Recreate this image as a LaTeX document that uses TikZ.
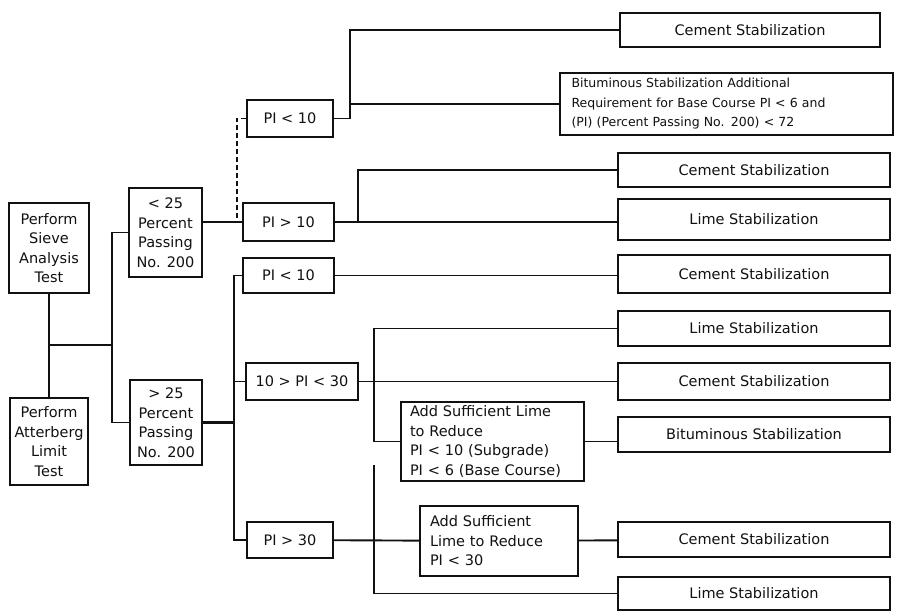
\documentclass[tikz,border=0pt]{standalone}
\usepackage{fontspec}
\setmainfont{DejaVu Sans}
\definecolor{ink}{HTML}{111111}
\tikzset{
  font=\fontsize{14.5}{19.5}\selectfont,
  box/.style 2 args={
    draw=ink, fill=white, text=ink, line width=1.9pt,
    inner sep=0pt, align=center,
    minimum width=#1pt, minimum height=#2pt
  },
  note/.style={align=left, text width=#1pt},
  wire/.style={draw=ink, line width=1.9pt}
}

\begin{document}
\begin{tikzpicture}[x=1pt,y=-1pt]
  \fill[white] (0,0) rectangle (899,611);
  \useasboundingbox (0,0) rectangle (899,611);

  % tests and soil classes
  \node[box={80}{90}] (sieve) at (49,248) {Perform\\Sieve\\Analysis\\Test};
  \node[box={78}{87}] (atter) at (49,441.5) {Perform\\Atterberg\\Limit\\Test};
  \node[box={73}{89}] (lt25) at (165.5,232.5) {< 25\\Percent\\Passing\\No. 200};
  \node[box={72}{85}] (gt25) at (166,422.5) {> 25\\Percent\\Passing\\No. 200};

  % plasticity ranges
  \node[box={86}{37}] (pile) at (290,118.5) {PI < 10};
  \node[box={91}{38}] (pigt) at (288.5,222) {PI > 10};
  \node[box={91}{35}] (pilo) at (288.5,275.5) {PI < 10};
  \node[box={112}{37}] (pimid) at (302,381.5) {10 > PI < 30};
  \node[box={86}{36}] (pihi) at (290,540) {PI > 30};
  \node[box={183}{79}, note=165] (addlo) at (492.5,441.5)
    {Add Sufficient Lime\\to Reduce\\PI < 10 (Subgrade)\\PI < 6 (Base Course)};
  \node[box={158}{70}, note=138] (addhi) at (499,541)
    {Add Sufficient\\Lime to Reduce\\PI < 30};

  % stabilizers
  \node[box={260}{34}] (cemtop) at (750,30) {Cement Stabilization};
  \node[box={333}{62}, note=310, font=\fontsize{12.5}{19.5}\selectfont] (bitA) at (726.5,104)
    {Bituminous Stabilization Additional\\Requirement for Base Course PI < 6 and\\(PI) (Percent Passing No. 200) < 72};
  \foreach \nm/\yy/\hh/\txt in {
      cemA/170/34/Cement Stabilization,
      limA/219.5/41/Lime Stabilization,
      cemB/274/38/Cement Stabilization,
      limB/328.5/35/Lime Stabilization,
      cemC/381.5/37/Cement Stabilization,
      bitB/434.5/35/Bituminous Stabilization,
      cemD/539.5/35/Cement Stabilization,
      limC/593.5/33/Lime Stabilization}
    \node[box={272}{\hh}] (\nm) at (754,\yy) {\txt};

  \coordinate (forkA) at (112,345);
  \coordinate (forkB) at (237,222);
  \coordinate (forkC) at (350,118.5);
  \coordinate (forkD) at (358,222);
  \coordinate (forkE) at (234,422.5);
  \coordinate (forkF) at (374,381.5);
  \coordinate (forkG) at (374,465);

  \draw[wire] (sieve) -- (atter);
  \draw[wire] (sieve.south |- forkA) -- (forkA);
  \draw[wire] (lt25.west) -| (forkA) |- (gt25.west);
  \draw[wire] (lt25.east |- pigt) -- (pigt);
  \draw[wire, dash pattern=on 5pt off 3pt] (pile) -| (forkB);
  \draw[wire] (pile) -- (forkC);
  \draw[wire] (cemtop) -| (forkC);
  \draw[wire] (bitA) -- (bitA -| forkC);
  \draw[wire] (pigt) -- (pigt -| limA.west);
  \draw[wire] (cemA) -| (forkD);
  \draw[wire] (pilo) -- (pilo -| cemB.west);
  \draw[wire, line width=2.6pt] (gt25) -- (forkE);
  \draw[wire] (pilo) -| (forkE) |- (pihi);
  \draw[wire] (pimid) -- (pimid -| forkE);
  \draw[wire] (pimid) -- (pimid -| cemC.west);
  \draw[wire] (limB) -| (forkF) |- (addlo);
  \draw[wire] (addlo) -- (addlo -| bitB.west);
  \draw[wire] (pihi) -- (addhi);
  \draw[wire] (addhi) -- (cemD);
  \draw[wire] (forkG) |- (limC);
\end{tikzpicture}
\end{document}
